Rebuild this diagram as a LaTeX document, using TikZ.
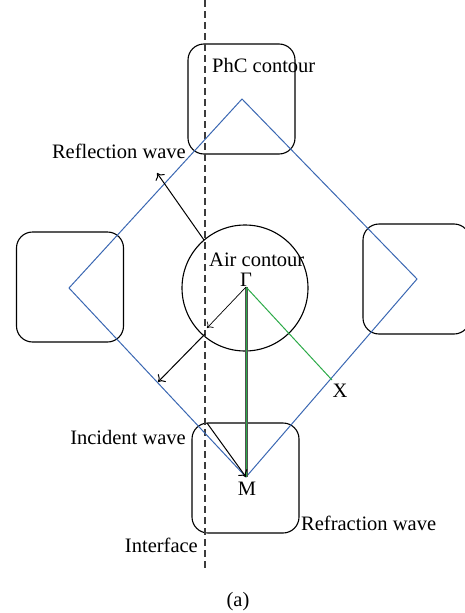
\documentclass[tikz,border=0pt]{standalone}
\usepackage{fontspec}
\setmainfont{Liberation Serif}
\usepackage{xcolor}
\usepackage{tikz}
\usetikzlibrary{arrows.meta,positioning,calc}
\definecolor{zoneblue}{RGB}{58,103,178}
\definecolor{pathgreen}{RGB}{44,170,72}
\definecolor{ifacegray}{RGB}{60,60,60}

\begin{document}
\begin{tikzpicture}[x=1pt, y=-1pt,
  contour/.style={draw, rounded corners=16pt, line width=1.1pt, minimum width=107pt, minimum height=110pt, inner sep=0pt},
  aircircle/.style={draw, circle, line width=1.1pt, minimum size=126pt, inner sep=0pt},
  iface/.style={ifacegray, line width=1.3pt, dash pattern=on 7pt off 4pt},
  bzone/.style={zoneblue, line width=1pt},
  wave/.style={-{To[length=6pt,width=11pt]}, line width=1pt},
  lbl/.style={font=\fontsize{20.5}{24}\selectfont, inner sep=0pt}
]
\useasboundingbox (0,0) rectangle (464,613);

% contours of the crystal and of air
\node[contour] (phc_top) at (241.5,99) {};
\node[contour] (phc_left) at (70,287) {};
\node[contour] (phc_right) at (416.5,279) {};
\node[contour] (phc_bot) at (245.5,478) {};
\node[aircircle] (air) at (245,288) {};

% interface
\coordinate (if_top) at (205,0);
\coordinate (if_bot) at (205,568);
\draw[iface] (if_top) -- (if_bot);

% Brillouin zone
\coordinate (top) at (242,99);
\coordinate (right) at (417,279);
\coordinate (M) at (246,477);
\coordinate (left) at (69,288);
\coordinate (G) at (246,287);
\coordinate (X) at (332,380);
\draw[bzone] (top) -- (right) -- (M) -- (left) -- cycle;

\draw[ifacegray!90, line width=3pt] (G) -- (M);
\draw[pathgreen, line width=0.9pt] (G) -- (M);
\draw[pathgreen, line width=1pt] (G) -- (X);

% waves
\coordinate (upcross) at (204,240);
\coordinate (refl_end) at (157,173);
\coordinate (lowcross) at (207,328);
\coordinate (low_start) at (205,334);
\coordinate (low_end) at (158,382);
\coordinate (inc_start) at (207,423);

\draw[wave] (upcross) -- (refl_end);
\draw[-{To[length=5pt,width=9pt]}, line width=0.7pt] (G) -- (lowcross);
\draw[wave] (low_start) -- (low_end);
\draw[wave] (inc_start) -- (M);

% labels
\node[lbl, anchor=base west] at (212,72) {PhC contour};
\node[lbl, anchor=base east] at (186,158) {Reflection wave};
\node[lbl, anchor=base west] at (209,266) {Air contour};
\node[lbl, anchor=base] at (246,286) {Γ};
\node[lbl, anchor=base] at (340,397) {X};
\node[lbl, anchor=base east] at (186,444) {Incident wave};
\node[lbl, anchor=base] at (247,495) {M};
\node[lbl, anchor=base west] at (301,530) {Refraction wave};
\node[lbl, anchor=base east] at (198,552) {Interface};
\node[lbl, anchor=base] at (238,606) {(a)};
\end{tikzpicture}
\end{document}
